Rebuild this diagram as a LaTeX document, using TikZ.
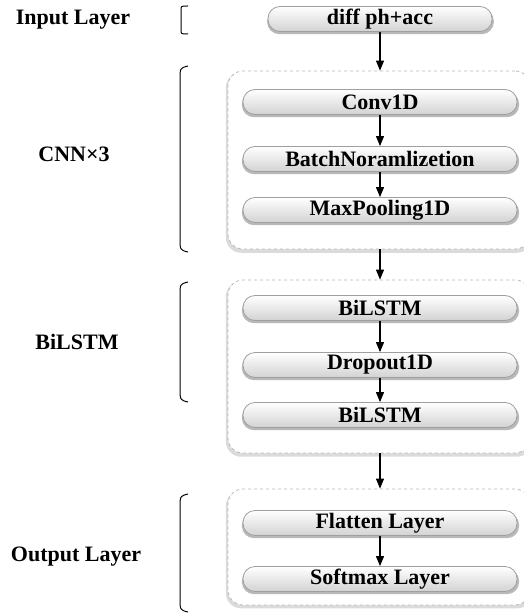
\documentclass[tikz,border=0pt]{standalone}
\usepackage{fontspec}
\setmainfont{Liberation Serif}
\usetikzlibrary{shadows,arrows.meta}

\tikzset{
  pill/.style={rounded corners=12pt, minimum height=25pt, inner sep=0pt,
    draw=gray!75, line width=0.8pt,
    top color=white, middle color=white, bottom color=gray!35,
    drop shadow={shadow xshift=0.5pt, shadow yshift=-2.5pt, shadow scale=1.012,
      fill=gray!55, opacity=1},
    font=\bfseries\fontsize{22}{26}\selectfont},
  wide/.style={pill, minimum width=274pt},
  group/.style={rounded corners=15pt, inner sep=0pt, draw=gray!55, dashed,
    line width=0.8pt, fill=white,
    drop shadow={shadow xshift=0pt, shadow yshift=-2.5pt, shadow scale=1.014,
      fill=gray!28, opacity=1}},
  lbl/.style={font=\bfseries\fontsize{22}{26}\selectfont, inner sep=0pt},
  flow/.style={-{Triangle[length=10pt,width=8pt]}, line width=1.1pt, black},
  brace/.style={line width=1pt, black}
}

\begin{document}
\begin{tikzpicture}[x=1pt,y=-1pt]
\useasboundingbox (0,0) rectangle (524,615);

% group frames
\node[group, minimum width=302pt, minimum height=178pt] (cnn) at (379,160) {};
\node[group, minimum width=302pt, minimum height=173pt] (rnn) at (379,366.5) {};
\node[group, minimum width=302pt, minimum height=116pt] (out) at (379,547) {};

% layer boxes
\node[pill, minimum width=224pt] (inp) at (380,19) {diff ph+acc};
\node[wide] (conv) at (380,102) {Conv1D};
\node[wide] (bn)   at (380,159) {BatchNoramlizetion};
\node[wide] (pool) at (380,210) {MaxPooling1D};
\node[wide] (lstma) at (380,308) {BiLSTM};
\node[wide] (drop)  at (380,365) {Dropout1D};
\node[wide] (lstmb) at (380,415) {BiLSTM};
\node[wide] (flat) at (380,523) {Flatten Layer};
\node[wide] (soft) at (380,579) {Softmax Layer};

% data flow
\draw[flow] (inp.south) -- (cnn.north -| inp.south);
\draw[flow] (conv.south) -- (bn.north);
\draw[flow] (bn.south) -- (pool.north);
\draw[flow] (cnn.south -| pool.south) -- (rnn.north -| pool.south);
\draw[flow] (lstma.south) -- (drop.north);
\draw[flow] (drop.south) -- (lstmb.north);
\draw[flow] (rnn.south -| lstmb.south) -- (out.north -| lstmb.south);
\draw[flow] (flat.south) -- (soft.north);

% stage labels
\node[lbl] (tin)  at (73,20)  {Input Layer};
\node[lbl] (tcnn) at (74,154) {CNN×3};
\node[lbl] (trnn) at (77,342) {BiLSTM};
\node[lbl] (tout) at (76,557) {Output Layer};

% brackets
\coordinate (b1a) at (188,6);   \coordinate (b1b) at (188,34);
\draw[brace] (b1a) .. controls (181,6) .. (181,10) -- (181,30) .. controls (181,34) .. (b1b);
\coordinate (b2a) at (188,66);  \coordinate (b2b) at (188,252);
\draw[brace] (b2a) .. controls (180,68) .. (180,80) -- (180,238) .. controls (180,250) .. (b2b);
\coordinate (b3a) at (188,282); \coordinate (b3b) at (188,402);
\draw[brace] (b3a) .. controls (180,284) .. (180,296) -- (180,388) .. controls (180,400) .. (b3b);
\coordinate (b4a) at (188,494); \coordinate (b4b) at (188,612);
\draw[brace] (b4a) .. controls (180,496) .. (180,508) -- (180,598) .. controls (180,610) .. (b4b);
\end{tikzpicture}
\end{document}
